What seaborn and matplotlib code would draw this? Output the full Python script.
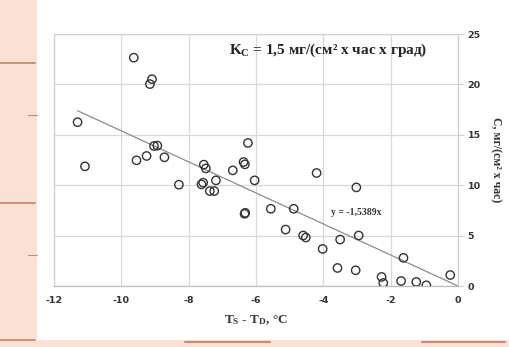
import matplotlib
matplotlib.use("Agg")
import matplotlib.pyplot as plt
import seaborn as sns
import pandas as pd
from matplotlib.patches import Rectangle
from matplotlib.lines import Line2D

# ------------------------------------------
# Data
# ------------------------------------------
dT = [-9.63, -9.09, -9.15, -11.30, -11.08, -9.55, -9.25, -9.03, -8.93, -8.72,
      -8.29, -7.55, -7.49, -7.62, -7.57, -7.37, -7.24, -7.19, -6.69, -6.37,
      -6.33, -6.24, -6.34, -6.32, -6.04, -5.56, -5.12, -4.88, -4.60, -4.52,
      -4.20, -4.02, -3.58, -3.50, -3.04, -3.02, -2.95, -2.27, -2.22, -1.69,
      -1.62, -1.24, -0.94, -0.23]
C = [22.65, 20.52, 20.03, 16.25, 11.87, 12.47, 12.90, 13.89, 13.93, 12.77,
     10.05, 12.04, 11.67, 10.08, 10.25, 9.42, 9.42, 10.48, 11.47, 12.30,
     12.07, 14.19, 7.16, 7.26, 10.48, 7.66, 5.60, 7.66, 5.01, 4.81,
     11.21, 3.68, 1.79, 4.61, 1.56, 9.78, 5.01, 0.90, 0.30, 0.50,
     2.79, 0.40, 0.07, 1.09]
slope = -1.5389
xticks = [-12, -10, -8, -6, -4, -2, 0]
yticks = [0, 5, 10, 15, 20, 25]

df = pd.DataFrame({"dT": dT, "C": C})

# ------------------------------------------
# Style
# ------------------------------------------
sns.set_style("white")
plt.rcParams["font.family"] = ["Liberation Serif", "DejaVu Serif"]
plt.rcParams["axes.unicode_minus"] = False
plt.rcParams["mathtext.fontset"] = "custom"
plt.rcParams["mathtext.rm"] = "Liberation Serif:bold"
plt.rcParams["mathtext.it"] = "Liberation Serif:bold"
plt.rcParams["mathtext.bf"] = "Liberation Serif:bold"

fig = plt.figure(figsize=(5.09, 3.47), dpi=100)
fig.patch.set_facecolor("white")

# pink slide decoration
fig.patches.append(Rectangle((0, 0), 37 / 509, 1, transform=fig.transFigure,
                             facecolor="#fbe0d5", edgecolor="none", zorder=0))
fig.patches.append(Rectangle((0, 0), 1, 7 / 347, transform=fig.transFigure,
                             facecolor="#fbe0d5", edgecolor="none", zorder=0))
for yy in [63, 203, 340]:
    fig.lines.append(Line2D([0, 35 / 509], [1 - yy / 347] * 2, transform=fig.transFigure,
                            color="#c98a70", lw=1.3, zorder=1))
for yy in [115, 255]:
    fig.lines.append(Line2D([28 / 509, 37 / 509], [1 - yy / 347] * 2, transform=fig.transFigure,
                            color="#c98a70", lw=0.8, zorder=1))
fig.lines.append(Line2D([185 / 509, 270 / 509], [5 / 347] * 2, transform=fig.transFigure,
                        color="#c98a70", lw=1.5, zorder=1))
fig.lines.append(Line2D([422 / 509, 505 / 509], [5 / 347] * 2, transform=fig.transFigure,
                        color="#c98a70", lw=1.5, zorder=1))

ax = fig.add_axes([54 / 509, 61 / 347, 404 / 509, 252 / 347])
ax.set_facecolor("none")

sns.scatterplot(data=df, x="dT", y="C", ax=ax, marker="o", s=36,
                facecolor="none", edgecolor="#333333", linewidth=1.0, zorder=3)

# trend line through origin
x0 = min(dT)
ax.plot([x0, 0], [slope * x0, 0], color="#8c8c8c", lw=0.9, zorder=2)

ax.set_xlim(-12, 0)
ax.set_ylim(0, 25)
ax.set_xticks(xticks)
ax.set_yticks(yticks)
ax.yaxis.tick_right()
ax.yaxis.set_label_position("right")
ax.grid(True, color="#d9d9d9", lw=0.9)
for s in ax.spines.values():
    s.set_color("#d0d0d0")
    s.set_linewidth(0.9)
ax.spines["bottom"].set_color("#bdbdbd")
ax.tick_params(axis="both", length=4, color="#d0d0d0", labelcolor="#333333")
ax.tick_params(axis="y", pad=3)
for lab in ax.get_xticklabels() + ax.get_yticklabels():
    lab.set_fontfamily(["DejaVu Sans"])
    lab.set_fontweight("bold")
    lab.set_fontsize(6.8)

ax.set_xlabel(r"T$_{\rm S}$ - T$_{\rm D}$, °C", fontsize=9.5, fontweight="bold",
              color="#333333", labelpad=6)
ax.set_ylabel("C, мг/(см² х час)", fontsize=8.5, fontweight="bold",
              color="#333333", rotation=270, labelpad=15)

ax.text(-6.8, 23.4, r"K$_{\rm C}$ = 1,5 мг/(см² х час х град)", fontsize=11,
        fontweight="bold", color="#222222", va="center", ha="left")
ax.text(-3.78, 7.25, "y = -1,5389x", fontsize=7, fontweight="bold",
        color="#333333", va="center", ha="left")

plt.savefig("out.png", dpi=100)
